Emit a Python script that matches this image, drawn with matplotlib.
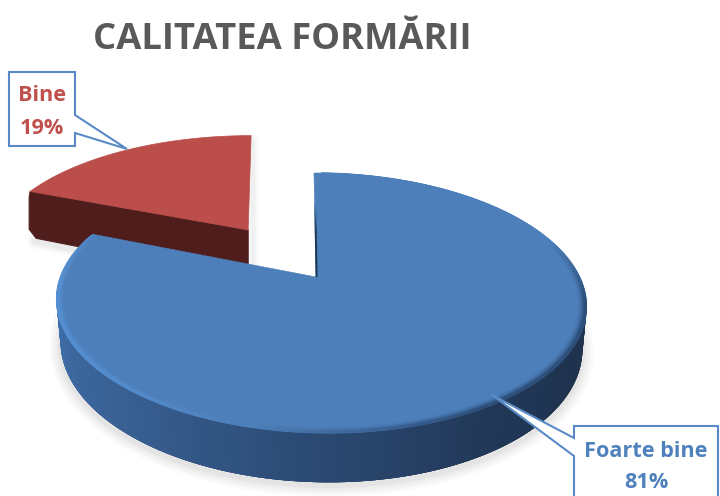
import numpy as np
import matplotlib
matplotlib.use("Agg")
import matplotlib.pyplot as plt
from matplotlib.patches import Polygon
from matplotlib.collections import LineCollection, PolyCollection
from matplotlib.colors import to_rgb

categories = ["Foarte bine", "Bine"]
values = [81, 19]
title = "CALITATEA FORMĂRII"

FONT = "Open Sans"
BLUE = "#4d7fba"
RED = "#bb4e4a"
K = 0.2
CY = 277

fig = plt.figure(figsize=(7.2, 4.96), dpi=100)
ax = fig.add_axes([0, 0, 1, 1])
ax.set_xlim(0, 720)
ax.set_ylim(496, 0)
ax.axis("off")

fr = np.array(values) / sum(values) * 360
starts = np.concatenate([[0], np.cumsum(fr)[:-1]])


def project(u, v, z, p):
    w = 1 + K * v
    x = p["cx"] + (p["a"] * u + p["s"] * v) / w
    y = CY - p["b"] * v / w + z / w
    return x, y


def arc(t, r, p, z=0.0):
    th = np.radians(t)
    return project(p["du"] + r * np.sin(th), p["dv"] + r * np.cos(th), z, p)


def blend(c1, c2, f):
    return np.array(to_rgb(c1)) * (1 - f) + np.array(to_rgb(c2)) * f


blue_p = dict(cx=320, a=259.6, b=124.8, s=-7.2, du=0.0, dv=0.0)
red_p = dict(cx=320, a=271.5, b=130, s=-10.6, du=-0.27, dv=0.39)

# ---------- red slice ----------
t0, t1 = starts[1], starts[1] + fr[1]
ts = np.linspace(t0, t1, 120)
H_r = 54
ax_, ay_ = project(red_p["du"], red_p["dv"], 0, red_p)
bx_, by_ = project(red_p["du"], red_p["dv"], H_r, red_p)
lx, ly = arc(t0, 1, red_p)
lbx, lby = arc(t0, 1, red_p, H_r)
for lw, al in zip([10, 7, 4], [0.04, 0.05, 0.06]):
    ax.plot([lbx + 4, bx_], [lby + 3, by_ + 3], color="#777777", lw=lw, alpha=al,
            solid_capstyle="round", zorder=1)
    ax.plot([ax_ + 5, ax_ + 5], [140, by_], color="#777777", lw=lw * 0.8, alpha=al * 0.7,
            solid_capstyle="round", zorder=1)
ax.add_patch(Polygon([[ax_, ay_], [lx, ly], [lx - 1, ly + 6], [lbx - 1, lby - 9],
                      [lbx + 6, lby], [bx_, by_]], closed=True, fc="#4f1e1c", ec="#4f1e1c",
                     lw=0.8, joinstyle="round", zorder=2))
xr, yr = arc(ts, 1, red_p)
ax.add_patch(Polygon(np.c_[np.r_[ax_, xr], np.r_[ay_, yr]], closed=True, fc=RED, ec=RED,
                     lw=0.5, zorder=3))

# ---------- blue slice ----------
t0, t1 = starts[0], starts[0] + fr[0]
ts = np.linspace(t0, t1, 700)
H = 42.0
R_BOTTOM = 0.985

tw = np.linspace(84, t1, 240)
xa, ya = arc(tw, 1, blue_p)
xb, yb = arc(tw, R_BOTTOM, blue_p, H)
knots = [84, 120, 150, 180, 215, 250, 285]
wall_r = np.array([(0.118, 0.192, 0.298), (0.122, 0.200, 0.310), (0.133, 0.220, 0.345),
                   (0.165, 0.285, 0.440), (0.215, 0.365, 0.560), (0.240, 0.420, 0.640),
                   (0.255, 0.450, 0.690)])

# ground shadow
sx, sy = arc(np.linspace(92, 270, 300), R_BOTTOM, blue_p, H)
for lw, al in zip([16, 12, 8, 4], [0.035, 0.045, 0.055, 0.07]):
    ax.plot(sx, sy + 3, color="#777777", lw=lw, alpha=al, solid_capstyle="round", zorder=3.5)

# wall: overlapping quads painted in sequence, so that no seams show
quads, cols = [], []
for i in range(len(tw) - 1):
    j = min(i + 4, len(tw) - 1)
    quads.append([[xa[i], ya[i]], [xa[j], ya[j]], [xb[j], yb[j]], [xb[i], yb[i]]])
    cols.append([np.interp(tw[i], knots, wall_r[:, c]) for c in range(3)])
ax.add_collection(PolyCollection(quads, facecolors=cols, edgecolors="none", zorder=4))

apex = project(-0.0154, 0, 0, blue_p)
ex, ey = arc(0.0, 1, blue_p)
xt, yt = arc(ts, 1, blue_p)
ax.add_patch(Polygon(np.c_[np.r_[apex[0], xt], np.r_[apex[1], yt]], closed=True, fc=BLUE, ec=BLUE,
                     lw=0.4, zorder=5, joinstyle="miter"))

# dark cut face seen along the vertical edge
f = np.linspace(0.3, 1, 30)
ax.add_collection(LineCollection(
    [[[ex + 0.6 + (apex[0] - ex) * f[i], ey + (apex[1] - ey) * f[i]],
      [ex + 0.6 + (apex[0] - ex) * f[i + 1], ey + (apex[1] - ey) * f[i + 1]]] for i in range(29)],
    colors=[blend(BLUE, "#16324f", min(1, (q - 0.3) * 4)) for q in f[:-1]],
    linewidths=1.4, zorder=6, capstyle="butt"))

# soft bevel along the rim
s_k = [0, 72, 100, 150, 180, 205, 230, 270, 291.6]
s_v = [0, 0, -0.75, -0.75, -0.3, 0.25, 0.65, 0.7, 0.2]
tr = np.linspace(2, t1 - 1, 500)
st = np.interp(tr, s_k, s_v)
rs = np.linspace(0.972, 0.999, 9)
for r, wt in zip(rs, [0.05, 0.12, 0.22, 0.35, 0.5, 0.7, 0.85, 0.95, 0.9]):
    xr, yr = arc(tr, r, blue_p)
    segs = [[[xr[i], yr[i]], [xr[i + 1], yr[i + 1]]] for i in range(len(tr) - 1)]
    cs = []
    for i in range(len(tr) - 1):
        q = st[i] * wt
        cs.append(blend(BLUE, "#5b9ae0", q) if q > 0 else blend(BLUE, "#1f3a5e", -q))
    ax.add_collection(LineCollection(segs, colors=cs, linewidths=1.1, zorder=6, capstyle="round"))


# ---------- callouts ----------
def callout(pts, lines, color, cx_, ys):
    ax.add_patch(Polygon(pts, closed=True, fc="white", ec="#5a8ac6", lw=1.5, zorder=8,
                         joinstyle="miter"))
    for line, y in zip(lines, ys):
        ax.text(cx_, y, line, ha="center", va="baseline", color=color, fontsize=15.6,
                fontweight="bold", family=FONT, zorder=9)


callout([[9, 72], [75, 72], [75, 115], [127, 149], [75, 133], [75, 146], [9, 146]],
        [categories[1], f"{values[1]}%"], "#c0504d", 42, [101, 134])
callout([[574, 426], [718, 426], [718, 500], [574, 500], [574, 456], [492, 395], [574, 438]],
        [categories[0], f"{values[0]}%"], "#4f81bd", 646, [457, 488])

ax.text(282, 49, title, ha="center", va="baseline", color="#595959", fontsize=26.2,
        fontweight="bold", family=FONT, zorder=10)

fig.savefig("out.png", dpi=100)
